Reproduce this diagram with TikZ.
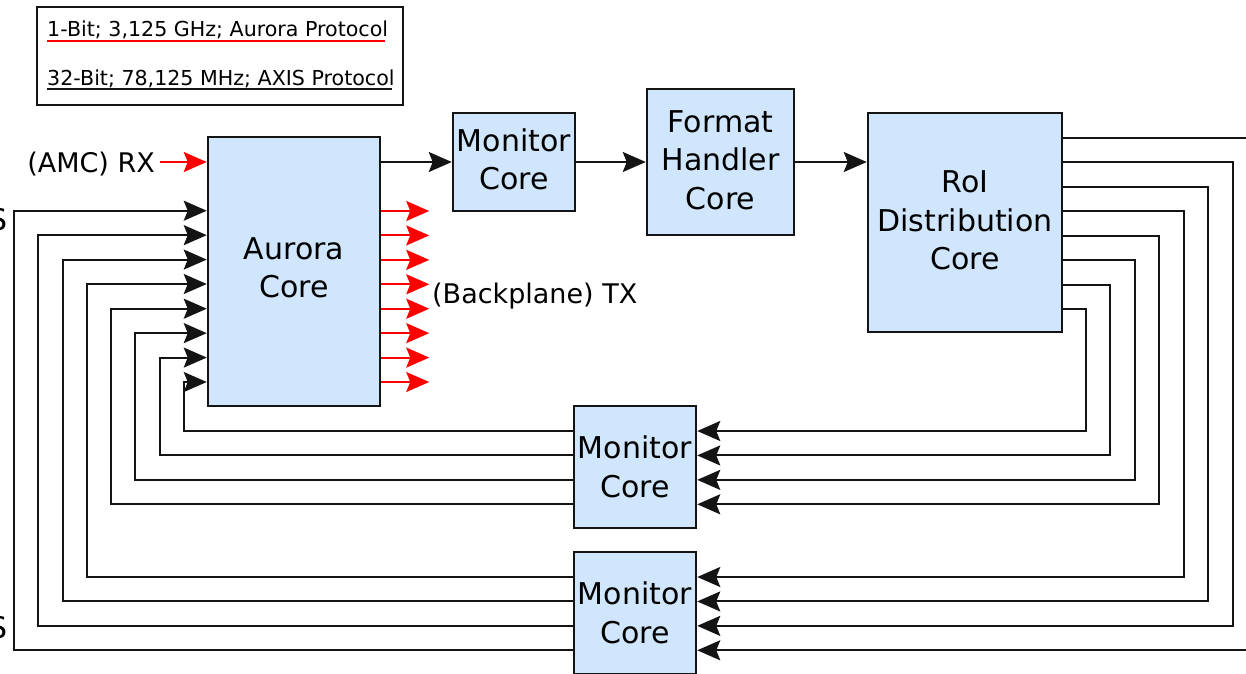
\documentclass[tikz,border=0pt]{standalone}
\usepackage{fontspec}
\setmainfont{DejaVu Sans}
\usetikzlibrary{arrows.meta,calc}
\definecolor{corefill}{RGB}{208,230,252}
\definecolor{edge}{RGB}{20,20,20}
\begin{document}
\begin{tikzpicture}[x=1pt,y=-1pt,
  core/.style={draw=edge, fill=corefill, line width=2.5pt, inner sep=0pt,
    align=center, font=\fontsize{30}{38.5}\selectfont},
  tip/.style={-{Stealth[length=23pt,width=20pt,inset=4pt]}},
  axis/.style={draw=edge, line width=2pt, tip},
  serial/.style={draw=red, line width=2pt, tip},
  lbl/.style={inner sep=0pt, font=\fontsize{27}{32}\selectfont},
  legend/.style={inner sep=0pt, font=\fontsize{20.6}{24}\selectfont},
]
\useasboundingbox (0,0) rectangle (1246,673);
\fill[white] (0,0) rectangle (1246,673);
\clip (0,0) rectangle (1246,673);

% legend
\draw[edge, line width=2.5pt] (37,7) rectangle (403,105);
\node[legend, anchor=base west] (leg1) at (47,36) {1-Bit; 3,125 GHz; Aurora Protocol};
\node[legend, anchor=base west] (leg2) at (47,85) {32-Bit; 78,125 MHz; AXIS Protocol};
\draw[red, line width=2.3pt] ($(leg1.base west)+(0,5)$) -- ($(leg1.base east)+(-3,5)$);
\draw[edge, line width=2.3pt] ($(leg2.base west)+(0,4)$) -- ($(leg2.base east)+(-3,4)$);

% cores
\node[core, text depth=8pt, minimum width=172pt, minimum height=269pt] (aur) at (294,271.5) {Aurora\\Core};
\node[core, text depth=6pt, minimum width=122pt, minimum height=98pt] (mon1) at (514,162) {Monitor\\Core};
\node[core, text depth=4pt, minimum width=147pt, minimum height=146pt] (fmt) at (720.5,162) {Format\\Handler\\Core};
\node[core, text depth=4pt, minimum width=194pt, minimum height=219pt] (roi) at (965,222.5) {RoI\\Distribution\\Core};
\node[core, minimum width=122pt, minimum height=122pt] (mon2) at (635,467) {Monitor\\Core};
\node[core, minimum width=122pt, minimum height=122pt] (mon3) at (635,613) {Monitor\\Core};

% main data path
\draw[axis] (aur.east |- mon1.west) -- (mon1.west);
\draw[axis] (mon1.east) -- (fmt.west);
\draw[axis] (fmt.east) -- (roi.west |- fmt.east);

% serial input
\coordinate (rxend) at (160,162);
\node[lbl, anchor=base east] (rx) at (155,172) {(AMC) RX};
\draw[serial] (rxend) -- (aur.west |- rxend);

% serial outputs
\foreach \i in {0,...,7} {
  \pgfmathsetmacro\yy{211+\i*24.43}
  \draw[serial] (aur.east |- 0,\yy) -- ++(48,0);
}
\node[lbl, anchor=base west] (tx) at (432,303) {(Backplane) TX};

% feedback through the lower monitor cores
\foreach \k in {0,...,3} {
  \pgfmathsetmacro\ym{431+\k*24.43}
  \pgfmathsetmacro\xl{184-\k*24.43}
  \pgfmathsetmacro\ya{382-\k*24.43}
  \pgfmathsetmacro\xr{1086+\k*24.43}
  \pgfmathsetmacro\yr{309-\k*24.43}
  \draw[axis] (roi.east |- 0,\yr) -| (\xr,\ym) -- (mon2.east |- 0,\ym);
  \draw[axis] (mon2.west |- 0,\ym) -| (\xl,\ya) -- (aur.west |- 0,\ya);
  \pgfmathsetmacro\ymb{577+\k*24.43}
  \pgfmathsetmacro\xlb{87-\k*24.43}
  \pgfmathsetmacro\yab{284-\k*24.43}
  \pgfmathsetmacro\xrb{1184+\k*24.43}
  \pgfmathsetmacro\yrb{211-\k*24.43}
  \draw[axis] (roi.east |- 0,\yrb) -| (\xrb,\ymb) -- (mon3.east |- 0,\ymb);
  \draw[axis] (mon3.west |- 0,\ymb) -| (\xlb,\yab) -- (aur.west |- 0,\yab);
}

% labels running in from the left
\node[inner sep=0pt, font=\fontsize{30}{36}\selectfont, anchor=base east] (s1) at (8,230) {S};
\node[inner sep=0pt, font=\fontsize{30}{36}\selectfont, anchor=base east] (s2) at (8,638) {S};
\end{tikzpicture}
\end{document}
